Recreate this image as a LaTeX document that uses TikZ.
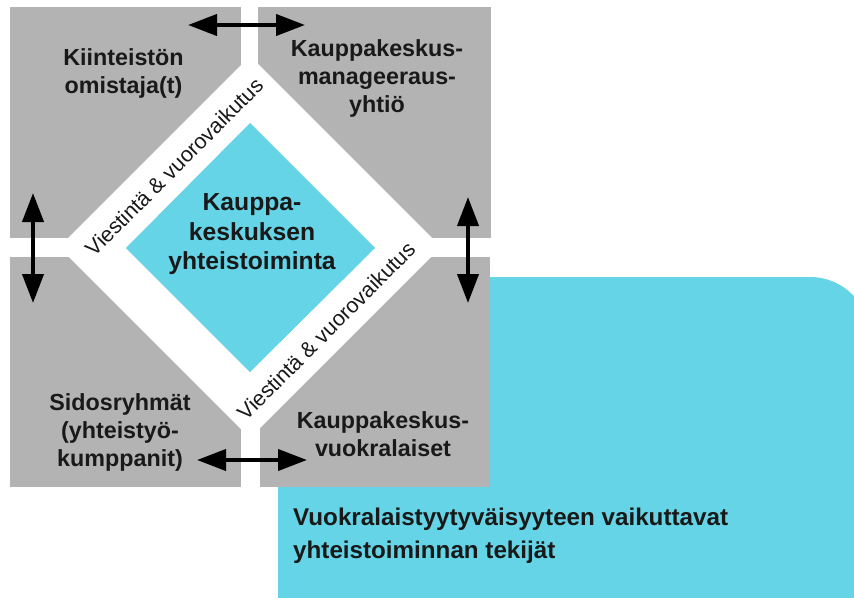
\documentclass[tikz,border=0pt]{standalone}
\usepackage{fontspec}
\setmainfont{Liberation Sans}
\usetikzlibrary{arrows.meta}
\definecolor{boxgray}{RGB}{179,179,179}
\definecolor{aqua}{RGB}{100,212,230}
\tikzset{
  lbl/.style={font=\bfseries\fontsize{23.3}{28}\selectfont, align=center, inner sep=0pt, text=black!90},
  ctr/.style={font=\bfseries\fontsize{24.7}{29.5}\selectfont, align=center, inner sep=0pt, text=black!90},
  bottomtxt/.style={font=\bfseries\fontsize{24.2}{32.5}\selectfont, align=left, inner sep=0pt, anchor=west, text=black!90},
  band/.style={font=\fontsize{21.5}{25}\selectfont, inner sep=0pt, rotate=45, text=black!90},
  dbl/.style={line width=4pt, {Triangle[length=29pt,width=21pt]}-{Triangle[length=29pt,width=21pt]}},
}
\begin{document}
\begin{tikzpicture}[x=1pt,y=-1pt]
\clip (0,0) rectangle (854,597);
\fill[white] (0,0) rectangle (854,597);
% big rounded panel
\fill[aqua, rounded corners=60pt] (278,277) rectangle (870,720);
% gray squares
\fill[boxgray] (10,7) rectangle (241,238);
\fill[boxgray] (258,7) rectangle (491,238);
\fill[boxgray] (10,257) rectangle (241,487);
\fill[boxgray] (260,257) rectangle (490,487);
% white diamond
\fill[white] (250,56) -- (441,247) -- (250,438) -- (59,247) -- cycle;
% cyan diamond
\fill[aqua] (250,123) -- (375,248) -- (250,372) -- (126,248) -- cycle;
% labels
\node[lbl] (owner) at (123.5,73.5) {Kiinteistön\\omistaja(t)};
\node[lbl] (mgmt) at (377,78) {Kauppakeskus-\\manageeraus-\\yhtiö};
\node[lbl] (stake) at (120,432) {Sidosryhmät\\(yhteistyö-\\kumppanit)};
\node[lbl] (tenant) at (383,434.5) {Kauppakeskus-\\vuokralaiset};
\node[ctr] (center) at (252,234.5) {Kauppa-\\keskuksen\\yhteistoiminta};
\node[band] (band1) at (174,167) {Viestintä \& vuorovaikutus};
\node[band] (band2) at (326,331) {Viestintä \& vuorovaikutus};
\node[bottomtxt] (title) at (293,535.5) {Vuokralaistyytyväisyyteen vaikuttavat\\yhteistoiminnan tekijät};
% arrows
\coordinate (t1) at (188,25);
\coordinate (t2) at (305,25);
\coordinate (l1) at (33,193);
\coordinate (l2) at (33,303);
\coordinate (r1) at (468,197);
\coordinate (r2) at (468,303);
\coordinate (b1) at (197,460);
\coordinate (b2) at (307,460);
\draw[dbl] (t1) -- (t2);
\draw[dbl] (l1) -- (l2);
\draw[dbl] (r1) -- (r2);
\draw[dbl] (b1) -- (b2);
\end{tikzpicture}
\end{document}
